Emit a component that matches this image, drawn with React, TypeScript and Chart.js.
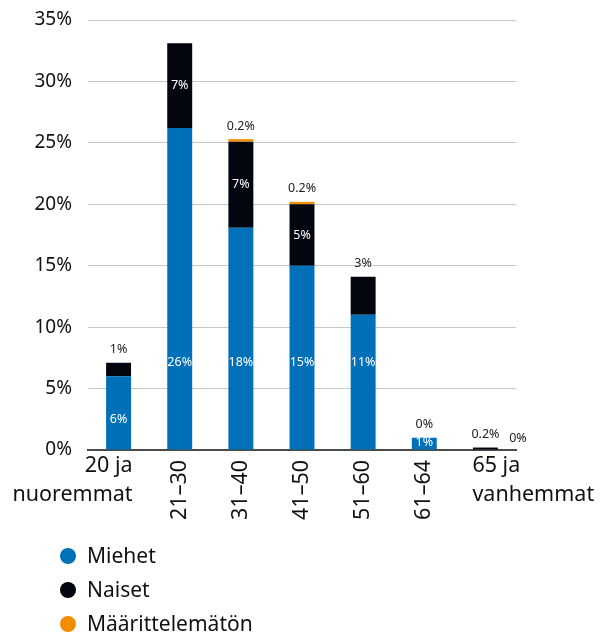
import React, { useEffect, useRef } from "react";
import { Chart, registerables } from "chart.js";

Chart.register(...registerables);

const categories: string[][] = [
  ["20 ja", "nuoremmat"],
  ["21–30"],
  ["31–40"],
  ["41–50"],
  ["51–60"],
  ["61–64"],
  ["65 ja", "vanhemmat"],
];
const seriesNames = ["Miehet", "Naiset", "Määrittelemätön"];
const miehet = [6, 26.2, 18.1, 15, 11, 1, 0];
const naiset = [1.1, 6.9, 7, 5, 3.1, 0, 0.2];
const maarittelematon = [0, 0, 0.2, 0.2, 0, 0, 0];
const yTicks = [0, 5, 10, 15, 20, 25, 30, 35];

const colors = ["#0070b8", "#03060f", "#f28c00"];
const FONT = "'Noto Sans', sans-serif";

const fmt = (v: number) => (v >= 1 || v === 0 ? `${Math.round(v)}%` : `${Math.round(v * 10) / 10}%`);

const labelPlugin = {
  id: "customLabels",
  afterDatasetsDraw(chart: any) {
    const ctx = chart.ctx;
    ctx.save();
    ctx.font = `12.5px ${FONT}`;
    ctx.textAlign = "center";
    ctx.textBaseline = "middle";
    const n = categories.length;
    for (let d = 0; d < 3; d++) {
      const meta = chart.getDatasetMeta(d);
      const data = chart.data.datasets[d].data as number[];
      for (let i = 0; i < n; i++) {
        const bar: any = meta.data[i];
        const { x, y, base, width } = bar.getProps(["x", "y", "base", "width"], true);
        const v = data[i];
        const h = base - y;
        if (d === 0) {
          if (v <= 0) continue;
          ctx.fillStyle = "#ffffff";
          const off = Math.max(7, Math.min(87, h - 43));
          ctx.fillText(fmt(v), x, base - off);
        } else if (d === 1) {
          if (v >= 4) {
            ctx.fillStyle = "#ffffff";
            ctx.fillText(fmt(v), x, (y + base) / 2);
          } else {
            ctx.fillStyle = "#222222";
            ctx.fillText(fmt(v), x, y - 13);
          }
        } else {
          ctx.fillStyle = "#222222";
          if (v > 0) {
            ctx.fillText(fmt(v), x, y - 13);
          } else if (i === n - 1) {
            ctx.fillText(fmt(v), x + width / 2 + 20, base - 9);
          }
        }
      }
    }
    ctx.restore();
  },
};

const xLabelPlugin = {
  id: "xLabels",
  afterDraw(chart: any) {
    const ctx = chart.ctx;
    const xs = chart.scales.x;
    const bottom = chart.chartArea.bottom;
    ctx.save();
    ctx.fillStyle = "#111111";
    ctx.font = `21.5px ${FONT}`;
    ctx.textBaseline = "middle";
    const n = categories.length;
    categories.forEach((lab, i) => {
      const x = xs.getPixelForValue(i);
      if (i === 0) {
        ctx.textAlign = "right";
        lab.forEach((t, k) => ctx.fillText(t, x + 14, bottom + 16 + k * 29));
      } else if (i === n - 1) {
        ctx.textAlign = "left";
        lab.forEach((t, k) => ctx.fillText(t, x - 13, bottom + 16 + k * 29));
      } else {
        ctx.save();
        ctx.translate(x, bottom + 10);
        ctx.rotate(-Math.PI / 2);
        ctx.textAlign = "right";
        ctx.fillText(lab[0], 0, 0);
        ctx.restore();
      }
    });
    // legend
    ctx.font = `21px ${FONT}`;
    ctx.textAlign = "left";
    seriesNames.forEach((name, k) => {
      const cy = 556 + k * 34;
      ctx.beginPath();
      ctx.fillStyle = colors[k];
      ctx.arc(68, cy, 8, 0, Math.PI * 2);
      ctx.fill();
      ctx.fillStyle = "#111111";
      ctx.fillText(name, 87, cy + 1);
    });
    ctx.restore();
  },
};

export default function App() {
  const ref = useRef<HTMLCanvasElement | null>(null);
  useEffect(() => {
    if (!ref.current) return;
    const chart = new Chart(ref.current, {
      type: "bar",
      data: {
        labels: categories.map((c) => c.join(" ")),
        datasets: [
          { label: seriesNames[0], data: miehet, backgroundColor: colors[0] },
          { label: seriesNames[1], data: naiset, backgroundColor: colors[1] },
          { label: seriesNames[2], data: maarittelematon, backgroundColor: colors[2] },
        ],
      },
      options: {
        responsive: false,
        animation: false,
        devicePixelRatio: 1,
        layout: { padding: { top: 20, right: 85, bottom: 186, left: 0 } },
        datasets: { bar: { categoryPercentage: 0.8, barPercentage: 0.51 } },
        plugins: { legend: { display: false }, tooltip: { enabled: false } },
        scales: {
          x: {
            stacked: true,
            grid: { display: false, drawTicks: false },
            ticks: { display: false },
            border: { display: true, color: "#4a4a4a", width: 2 },
            afterFit: (s: any) => {
              s.height = 0;
              s.paddingLeft = 0;
              s.paddingRight = 0;
            },
          },
          y: {
            stacked: true,
            min: 0,
            max: 35,
            afterBuildTicks: (s: any) => {
              s.ticks = yTicks.map((v) => ({ value: v }));
            },
            grid: { color: "#c8c8c8", lineWidth: 1, drawTicks: false },
            border: { display: false },
            ticks: {
              padding: 16,
              color: "#111111",
              font: { family: "'Noto Sans', sans-serif", size: 19 },
              callback: (v: any) => `${v}%`,
            },
            afterFit: (s: any) => {
              s.width = 88;
              s.paddingTop = 0;
              s.paddingBottom = 0;
            },
          },
        },
      },
      plugins: [labelPlugin, xLabelPlugin],
    });
    return () => chart.destroy();
  }, []);
  return (
    <div style={{ position: "absolute", left: 0, top: 0, width: 601, height: 636, background: "#fff" }}>
      <canvas ref={ref} width={601} height={636} style={{ display: "block" }} />
    </div>
  );
}
